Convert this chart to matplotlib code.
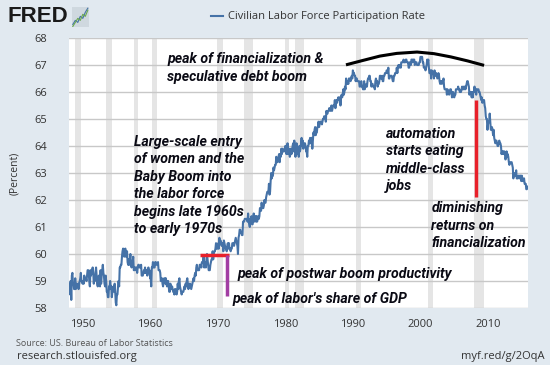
import numpy as np
import matplotlib.pyplot as plt

# =========================================================
# DATA  (monthly civilian labor force participation rate, %)
# =========================================================

lfpr_1948_1957 = [
    58.6, 58.9, 58.5, 59.0, 58.3, 59.2, 59.3, 58.9, 58.9, 58.7, 58.7, 59.1,
    58.7, 58.9, 58.8, 58.8, 58.9, 58.7, 58.9, 59.0, 59.1, 59.3, 59.0, 59.0,
    58.9, 59.0, 58.9, 59.2, 59.1, 59.1, 59.1, 59.0, 59.2, 59.4, 59.4, 59.3,
    59.0, 58.8, 59.4, 59.2, 59.3, 59.4, 59.5, 59.3, 58.9, 59.2, 59.0, 59.3,
    59.5, 59.2, 58.9, 58.8, 59.1, 59.2, 58.9, 58.8, 59.4, 58.9, 59.2, 59.4,
    59.6, 59.3, 59.2, 58.9, 58.8, 59.2, 59.0, 58.6, 58.6, 58.4, 58.4, 58.8,
    58.7, 59.0, 58.8, 58.8, 58.4, 58.6, 58.7, 58.8, 58.6, 58.9, 58.6, 58.2,
    58.1, 58.5, 58.5, 58.8, 59.0, 58.8, 59.5, 59.5, 59.6, 59.6, 59.9, 60.1,
    60.2, 60.0, 59.9, 60.1, 60.2, 59.9, 59.9, 60.1, 59.7, 59.6, 59.8, 59.6,
    59.8, 60.0, 59.6, 59.5, 59.6, 59.7, 59.9, 59.4, 59.4, 59.5, 59.4, 59.5,
]

lfpr_1958_1967 = [
    59.5, 59.3, 59.5, 59.6, 59.6, 59.5, 59.5, 59.5, 59.6, 59.2, 59.2, 59.2,
    59.3, 59.4, 59.3, 59.5, 59.3, 59.4, 59.4, 59.2, 59.4, 59.5, 59.3, 59.4,
    59.1, 59.1, 58.8, 59.5, 59.5, 59.7, 59.5, 59.5, 59.5, 59.7, 59.7, 59.6,
    59.6, 59.6, 59.7, 59.4, 59.4, 59.4, 59.3, 59.0, 59.1, 59.1, 58.9, 58.8,
    59.0, 59.1, 59.1, 58.9, 59.1, 58.9, 58.8, 59.0, 59.0, 58.8, 58.6, 58.6,
    58.9, 58.7, 58.7, 58.8, 58.7, 58.6, 58.6, 58.5, 58.7, 58.7, 58.6, 58.5,
    58.6, 58.9, 58.7, 59.0, 59.1, 58.8, 58.7, 58.6, 58.5, 58.6, 58.6, 58.6,
    58.7, 58.8, 58.7, 58.9, 58.8, 59.0, 59.1, 58.9, 58.7, 58.8, 58.9, 58.9,
    58.8, 58.7, 58.8, 58.9, 59.0, 59.1, 59.0, 59.2, 59.3, 59.2, 59.5, 59.6,
    59.4, 59.4, 59.4, 59.4, 59.6, 59.6, 59.6, 59.5, 59.7, 59.7, 59.7, 59.9,
]

lfpr_1968_1977 = [
    59.5, 59.6, 59.7, 59.5, 59.8, 60.0, 59.8, 59.6, 59.4, 59.4, 59.4, 59.6,
    59.7, 59.8, 59.8, 60.1, 59.8, 60.0, 60.1, 60.1, 60.2, 60.4, 60.2, 60.3,
    60.2, 60.4, 60.2, 60.6, 60.4, 60.5, 60.4, 60.3, 60.4, 60.4, 60.1, 60.5,
    60.4, 60.3, 60.2, 60.2, 60.1, 60.3, 60.4, 60.2, 60.4, 60.2, 60.2, 60.1,
    60.2, 60.2, 60.4, 60.4, 60.4, 60.3, 60.4, 60.5, 60.6, 60.5, 60.4, 60.3,
    60.0, 60.6, 60.7, 60.9, 60.9, 60.8, 60.8, 60.7, 60.7, 61.2, 61.2, 61.2,
    61.3, 61.3, 61.3, 61.3, 61.3, 61.2, 61.5, 61.2, 61.1, 61.0, 61.3, 61.2,
    61.4, 61.1, 61.1, 61.3, 61.5, 61.2, 61.3, 61.4, 61.2, 61.4, 61.2, 61.3,
    61.4, 61.3, 61.4, 61.7, 61.7, 61.6, 61.9, 61.7, 61.7, 61.7, 61.8, 62.0,
    61.9, 61.9, 62.1, 62.2, 62.3, 62.3, 62.3, 62.6, 62.2, 62.3, 62.7, 63.0,
]

lfpr_1978_1987 = [
    62.8, 62.9, 62.9, 63.2, 63.1, 63.2, 63.3, 63.3, 63.6, 63.4, 63.4, 63.5,
    63.6, 63.7, 63.4, 63.7, 63.6, 63.9, 63.7, 63.9, 63.8, 63.8, 63.8, 63.9,
    64.0, 64.0, 63.7, 63.8, 64.1, 63.7, 63.7, 63.9, 63.6, 63.7, 63.9, 63.7,
    63.8, 64.0, 64.1, 63.8, 64.2, 63.9, 63.6, 63.7, 64.1, 63.7, 63.8, 63.8,
    63.6, 64.0, 63.8, 63.9, 64.1, 64.3, 64.0, 64.2, 63.9, 64.1, 64.1, 64.1,
    64.0, 63.8, 63.8, 63.6, 64.0, 64.0, 64.2, 64.1, 64.3, 64.1, 64.3, 64.3,
    63.9, 64.2, 64.5, 64.4, 64.6, 64.7, 64.4, 64.5, 64.5, 64.7, 64.7, 64.9,
    64.7, 64.8, 64.9, 64.9, 64.9, 64.8, 64.9, 65.0, 65.0, 65.1, 65.1, 65.1,
    64.9, 65.3, 65.2, 65.2, 65.3, 65.3, 65.4, 65.4, 65.3, 65.4, 65.5, 65.3,
    65.4, 65.5, 65.5, 65.5, 65.7, 65.4, 65.6, 65.7, 65.6, 65.7, 65.8, 65.7,
]

lfpr_1988_1997 = [
    65.8, 65.8, 65.5, 65.8, 65.9, 65.8, 65.9, 66.1, 65.9, 66.0, 66.2, 66.1,
    66.5, 66.3, 66.3, 66.4, 66.3, 66.5, 66.5, 66.5, 66.4, 66.5, 66.6, 66.5,
    66.8, 66.7, 66.7, 66.6, 66.6, 66.4, 66.5, 66.5, 66.4, 66.4, 66.4, 66.4,
    66.2, 66.2, 66.3, 66.4, 66.2, 66.2, 66.1, 66.1, 66.4, 66.1, 66.2, 66.2,
    66.3, 66.2, 66.4, 66.5, 66.5, 66.6, 66.6, 66.4, 66.4, 66.2, 66.3, 66.3,
    66.2, 66.2, 66.2, 66.1, 66.4, 66.5, 66.4, 66.4, 66.2, 66.3, 66.3, 66.4,
    66.6, 66.6, 66.5, 66.5, 66.6, 66.4, 66.4, 66.6, 66.6, 66.7, 66.7, 66.7,
    66.8, 66.8, 66.7, 66.9, 66.5, 66.5, 66.6, 66.6, 66.6, 66.6, 66.5, 66.4,
    66.4, 66.6, 66.6, 66.7, 66.7, 66.7, 66.9, 66.7, 66.9, 67.0, 66.9, 67.0,
    67.0, 66.9, 67.1, 67.1, 67.1, 67.1, 67.2, 67.1, 67.1, 67.1, 67.2, 67.2,
]

lfpr_1998_2007 = [
    67.1, 67.1, 67.1, 66.9, 66.9, 67.1, 67.0, 67.0, 67.2, 67.2, 67.1, 67.2,
    67.2, 67.2, 67.0, 67.1, 67.1, 67.1, 67.0, 67.0, 67.0, 67.0, 67.1, 67.1,
    67.3, 67.3, 67.3, 67.3, 67.1, 67.1, 66.9, 66.9, 66.9, 66.8, 66.9, 67.0,
    67.2, 67.1, 67.2, 66.9, 66.7, 66.7, 66.8, 66.5, 66.8, 66.7, 66.7, 66.7,
    66.5, 66.8, 66.6, 66.7, 66.7, 66.6, 66.5, 66.6, 66.7, 66.6, 66.4, 66.3,
    66.4, 66.4, 66.3, 66.4, 66.4, 66.5, 66.2, 66.1, 66.1, 66.1, 66.1, 65.9,
    66.1, 66.0, 66.0, 65.9, 66.0, 66.1, 66.1, 66.0, 65.8, 65.9, 66.0, 65.9,
    65.8, 65.9, 65.9, 66.1, 66.1, 66.1, 66.1, 66.2, 66.1, 66.1, 66.0, 66.0,
    66.0, 66.1, 66.2, 66.1, 66.1, 66.2, 66.1, 66.2, 66.1, 66.2, 66.3, 66.4,
    66.4, 66.3, 66.2, 65.9, 66.0, 66.0, 66.0, 65.8, 66.0, 65.8, 66.0, 66.0,
]

lfpr_2008_2015 = [
    66.2, 66.0, 66.1, 65.9, 66.1, 66.1, 66.1, 66.1, 66.0, 66.0, 65.9, 65.8,
    65.7, 65.8, 65.6, 65.7, 65.7, 65.7, 65.5, 65.4, 65.1, 65.0, 65.0, 64.6,
    64.8, 64.9, 64.9, 65.2, 64.9, 64.6, 64.6, 64.7, 64.6, 64.4, 64.6, 64.3,
    64.2, 64.1, 64.2, 64.2, 64.1, 64.0, 64.0, 64.1, 64.2, 64.1, 64.1, 64.0,
    63.7, 63.8, 63.8, 63.7, 63.8, 63.8, 63.7, 63.5, 63.6, 63.8, 63.6, 63.7,
    63.6, 63.4, 63.3, 63.4, 63.4, 63.4, 63.4, 63.3, 63.2, 62.8, 63.0, 62.9,
    62.9, 62.9, 63.1, 62.8, 62.8, 62.8, 62.9, 62.9, 62.8, 62.9, 62.9, 62.7,
    62.9, 62.8, 62.7, 62.7, 62.8, 62.6, 62.6, 62.6, 62.4, 62.4, 62.5, 62.5,
]

rate = np.array(lfpr_1948_1957 + lfpr_1958_1967 + lfpr_1968_1977 +
                lfpr_1978_1987 + lfpr_1988_1997 + lfpr_1998_2007 +
                lfpr_2008_2015)
start_year = 1948
dates = start_year + np.arange(len(rate)) / 12.0

# recessions (decimal years)
rec_start = [1948.83, 1953.50, 1957.58, 1960.25, 1969.92, 1973.83,
             1980.00, 1981.50, 1990.50, 2001.17, 2007.92]
rec_end = [1949.75, 1954.33, 1958.25, 1961.08, 1970.83, 1975.17,
           1980.50, 1982.83, 1991.17, 2001.83, 2009.42]

# annotation marks
red_h_x = [1967.4, 1971.7]
red_h_y = [59.97, 59.97]
purple_x = [1971.4, 1971.4]
purple_y = [59.97, 58.45]
red_v_x = [2008.2, 2008.2]
red_v_y = [65.72, 62.1]
arc_x = [1989.2, 1991.5, 1994.0, 1996.5, 1999.5, 2002.0, 2004.5, 2007.0, 2009.2]
arc_y = [67.02, 67.17, 67.33, 67.43, 67.48, 67.42, 67.30, 67.15, 67.00]

x_ticks = [1950, 1960, 1970, 1980, 1990, 2000, 2010]
y_ticks = [58, 59, 60, 61, 62, 63, 64, 65, 66, 67, 68]

# =========================================================
# FIGURE
# =========================================================

BG = '#e1e9f0'
LINE = '#4572a7'
TXT = '#333333'

fig = plt.figure(figsize=(5.5, 3.65), dpi=100, facecolor=BG)
ax = fig.add_axes([0.1255, 0.1562, 0.8345, 0.7397])
ax.set_facecolor('white')

for s, e in zip(rec_start, rec_end):
    ax.axvspan(s, e, color='#e5e5e5', lw=0, zorder=0)

ax.set_yticks(y_ticks)
ax.grid(axis='y', color='#c8c8c8', lw=1, zorder=1)
ax.plot(dates, rate, color=LINE, lw=1.5, zorder=3)

ax.set_xlim(start_year, dates[-1])
ax.set_ylim(58, 68)
ax.set_xticks(x_ticks)
ax.tick_params(length=0, labelsize=8, labelcolor=TXT, pad=8)
ax.tick_params(axis='y', pad=16)
for lab in ax.get_xticklabels() + ax.get_yticklabels():
    lab.set_fontfamily('Open Sans')
for sp in ax.spines.values():
    sp.set_visible(False)

ax.set_ylabel('(Percent)', fontsize=7.5, color=TXT, family='Open Sans', labelpad=10)

# annotation marks
ax.plot(red_h_x, red_h_y, color='#e8202a', lw=2.5, zorder=4, solid_capstyle='butt')
ax.plot(purple_x, purple_y, color='#a23ea3', lw=2.5, zorder=4, solid_capstyle='butt')
ax.plot(red_v_x, red_v_y, color='#e8202a', lw=2.5, zorder=4, solid_capstyle='butt')
ax.plot(arc_x, arc_y, color='black', lw=2.2, zorder=4)

note = dict(fontsize=10.2, fontweight='bold', style='italic', family='Roboto',
            color='#0a0a14', linespacing=1.32, va='center', ha='left', zorder=5)
ax.text(1962.5, 66.89, 'peak of financialization &\nspeculative debt boom', **note)
ax.text(1957.6, 62.54, 'Large-scale entry\nof women and the\nBaby Boom into\n'
        'the labor force\nbegins late 1960s\nto early 1970s', **note)
ax.text(1973.0, 59.26, 'peak of postwar boom productivity', **note)
ax.text(1972.2, 58.33, "peak of labor's share of GDP", **note)
ax.text(1994.85, 63.48, 'automation\nstarts eating\nmiddle-class\njobs', **note)
ax.text(2001.6, 61.04, 'diminishing\nreturns on\nfinancialization', **note)

# =========================================================
# HEADER / FOOTER
# =========================================================

fig.text(0.013, 0.955, 'FRED', fontsize=16, fontweight='heavy', family='Liberation Sans',
         color='#1a1a1a', va='center', ha='left')
icon = fig.add_axes([0.131, 0.925, 0.03, 0.055])
icon.set_facecolor('#cfd8df')
icon_x = [0, 1, 2, 3, 4, 5, 6]
icon_a = [1, 2, 1.5, 3, 2.5, 4, 5]
icon_b = [0.5, 1.5, 2.5, 2, 3.5, 3, 4.5]
icon.plot(icon_x, icon_a, color='#4572a7', lw=0.8)
icon.plot(icon_x, icon_b, color='#6aa84f', lw=0.8)
icon.set_xticks([])
icon.set_yticks([])
for sp in icon.spines.values():
    sp.set_visible(False)

fig.add_artist(plt.Line2D([0.384, 0.406], [0.956, 0.956], color=LINE, lw=1.5))
fig.text(0.415, 0.956, 'Civilian Labor Force Participation Rate', fontsize=8,
         family='Open Sans', color=TXT, va='center', ha='left')

fig.text(0.03, 0.06, 'Source: US. Bureau of Labor Statistics', fontsize=6.5,
         family='Open Sans', color='#555555', va='center', ha='left')
fig.text(0.03, 0.022, 'research.stlouisfed.org', fontsize=8,
         family='Open Sans', color=TXT, va='center', ha='left')
fig.text(0.99, 0.022, 'myf.red/g/2OqA', fontsize=8,
         family='Open Sans', color=TXT, va='center', ha='right')

fig.savefig('out.png', dpi=100, facecolor=BG)
